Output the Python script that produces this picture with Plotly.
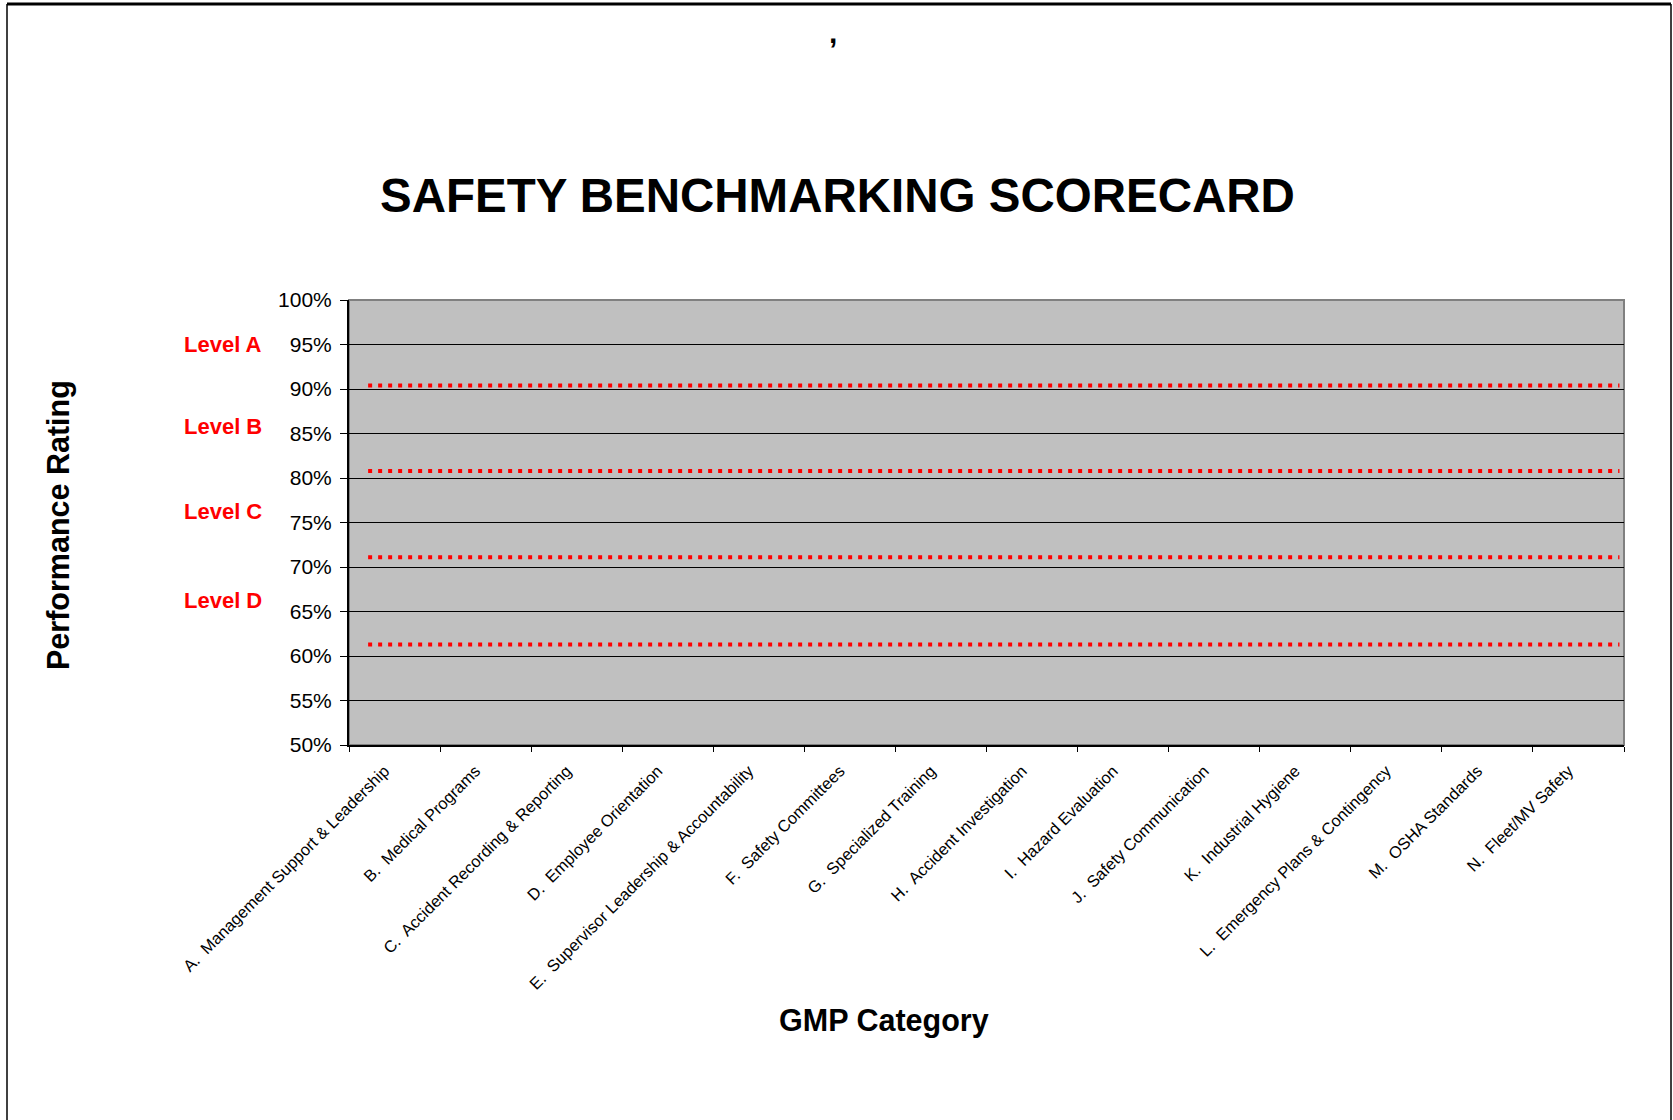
import plotly.graph_objects as go

# ---------------- data ----------------
categories = [
    "A.\u00a0 Management Support & Leadership",
    "B.\u00a0 Medical Programs",
    "C.\u00a0 Accident Recording & Reporting",
    "D.\u00a0 Employee Orientation",
    "E.\u00a0 Supervisor Leadership & Accountability",
    "F.\u00a0 Safety Committees",
    "G.\u00a0 Specialized Training",
    "H.\u00a0 Accident Investigation",
    "I.\u00a0 Hazard Evaluation",
    "J.\u00a0 Safety Communication",
    "K.\u00a0 Industrial Hygiene",
    "L.\u00a0 Emergency Plans & Contingency",
    "M.\u00a0 OSHA Standards",
    "N.\u00a0 Fleet/MV Safety",
]
scores = [None] * len(categories)  # no scores plotted

level_names = ["Level A", "Level B", "Level C", "Level D"]
level_label_y = [0.950, 0.858, 0.762, 0.662]
limit_values = [0.904, 0.808, 0.711, 0.613]
limit_line_x = [-0.29, 13.45]  # extent of the dotted level limits, in category units

y_ticks = [0.50, 0.55, 0.60, 0.65, 0.70, 0.75, 0.80, 0.85, 0.90, 0.95, 1.00]

# ---------------- layout geometry ----------------
W, H = 1673, 1120
L, R, T, B = 349, 1624, 300, 745


def px(x):
    return (x - L) / (R - L)


def py(y):
    return (B - y) / (B - T)


FONT = "Liberation Sans, Arial, sans-serif"

fig = go.Figure()

fig.add_trace(go.Scatter(x=categories, y=scores, mode="markers",
                         showlegend=False, hoverinfo="skip"))

for v in limit_values:
    fig.add_trace(go.Scatter(
        x=limit_line_x, y=[v, v], xaxis="x2", yaxis="y", mode="lines",
        line=dict(color="#FF0000", width=4, dash="4px,6px"),
        showlegend=False, hoverinfo="skip"))

annotations = []
for name, yv in zip(level_names, level_label_y):
    annotations.append(dict(
        text=name, x=px(264), xref="paper", y=yv, yref="y",
        xanchor="right", yanchor="middle", showarrow=False,
        font=dict(family=FONT, size=22, color="#FF0000", weight="bold")))

annotations += [
    dict(text="SAFETY BENCHMARKING SCORECARD", x=px(837), y=py(195),
         xref="paper", yref="paper", xanchor="center", yanchor="middle",
         showarrow=False,
         font=dict(family=FONT, size=47.5, color="#000000", weight="bold")),
    dict(text=",", x=px(833), y=py(33), xref="paper", yref="paper",
         xanchor="center", yanchor="middle", showarrow=False,
         font=dict(family=FONT, size=30, color="#000000", weight="bold")),
    dict(text="Performance Rating", x=px(58), y=py(525), xref="paper",
         yref="paper", xanchor="center", yanchor="middle", textangle=-90,
         showarrow=False,
         font=dict(family=FONT, size=30.5, color="#000000", weight="bold")),
    dict(text="GMP Category", x=px(884), y=py(1020), xref="paper",
         yref="paper", xanchor="center", yanchor="middle", showarrow=False,
         font=dict(family=FONT, size=30.5, color="#000000", weight="bold")),
]

shapes = [
    # plot area border (gray)
    dict(type="rect", xref="paper", yref="paper", x0=0, x1=1, y0=0, y1=1,
         line=dict(color="#808080", width=2), layer="below"),
    # outer page frame
    dict(type="line", xref="paper", yref="paper", x0=px(7), x1=px(1671),
         y0=py(4), y1=py(4), line=dict(color="#000000", width=3)),
    dict(type="line", xref="paper", yref="paper", x0=px(7), x1=px(7),
         y0=py(4), y1=py(1130), line=dict(color="#000000", width=1.5)),
    dict(type="line", xref="paper", yref="paper", x0=px(1671), x1=px(1671),
         y0=py(4), y1=py(1130), line=dict(color="#000000", width=1.5)),
]

fig.update_layout(
    width=W, height=H,
    margin=dict(l=L, r=W - R, t=T, b=H - B, pad=0),
    paper_bgcolor="#FFFFFF",
    plot_bgcolor="#C0C0C0",
    showlegend=False,
    annotations=annotations,
    shapes=shapes,
    xaxis=dict(
        type="category", categoryorder="array", categoryarray=categories,
        range=[-0.5, len(categories) - 0.5], fixedrange=True,
        showgrid=False, zeroline=False,
        showline=True, linecolor="#000000", linewidth=2,
        ticks="outside", tickson="boundaries", ticklen=5,
        tickcolor="#000000", tickwidth=1,
        tickangle=-45,
        ticklabelshift=-10,
        ticklabelstandoff=8,
        tickfont=dict(family=FONT, size=16.4, color="#000000"),
    ),
    xaxis2=dict(
        overlaying="x", range=[-0.5, len(categories) - 0.5], visible=False,
        fixedrange=True,
    ),
    yaxis=dict(
        range=[0.5, 1.0], tickvals=y_ticks, tickformat=".0%",
        fixedrange=True,
        showgrid=True, gridcolor="#000000", gridwidth=1,
        zeroline=False,
        showline=True, linecolor="#000000", linewidth=2,
        ticks="outside", ticklen=7, tickcolor="#000000", tickwidth=1,
        ticklabelstandoff=4,
        tickfont=dict(family=FONT, size=21, color="#000000"),
    ),
)

fig.write_html(
    "out.html",
    config={"displayModeBar": False},
    post_script="document.body.style.margin='0';document.body.style.overflow='hidden';",
)
